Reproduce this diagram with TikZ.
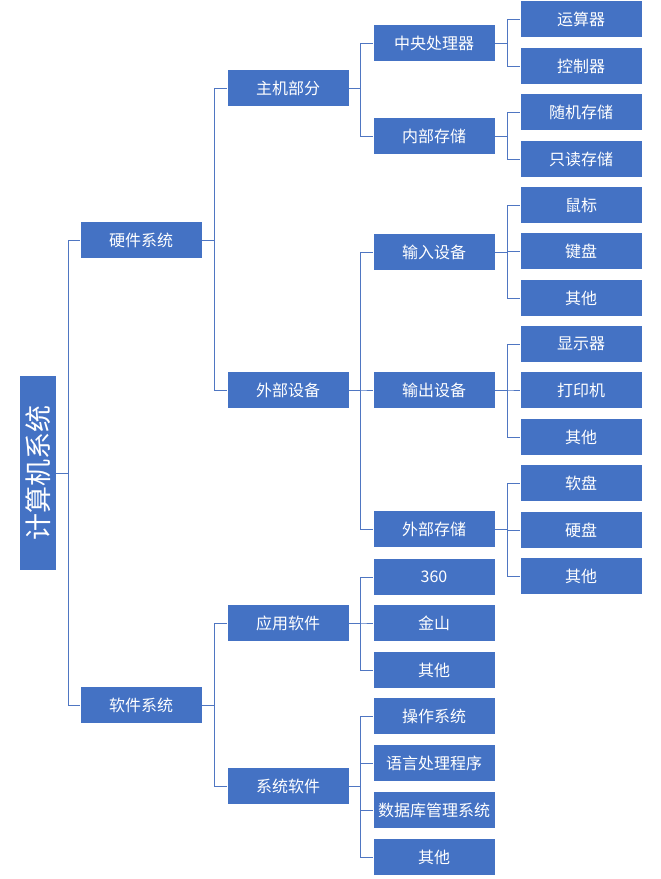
\documentclass[tikz,border=0pt]{standalone}
\usepackage{fontspec}
\setmainfont{Noto Sans CJK SC}
\usepackage{tikz}
\definecolor{boxblue}{HTML}{4472C4}
\definecolor{lineblue}{HTML}{4F76C2}

\begin{document}
\begin{tikzpicture}[
    x=1pt, y=-1pt,
    box/.style={fill=boxblue, text=white, minimum width=121pt, minimum height=36pt, inner sep=0pt, align=center, font=\fontsize{16}{19}\selectfont},
    rootbox/.style={fill=boxblue, text=white, minimum width=194pt, minimum height=36pt, inner sep=0pt, rotate=90, font=\fontsize{27}{30}\selectfont},
    conn/.style={draw=lineblue, line width=0.8pt}
]
\useasboundingbox (0,0) rectangle (661,879);

\node[rootbox] (root) at (38,473) {计算机系统};

\node[box] (hw) at (141,240) {硬件系统};
\node[box] (sw) at (141,705) {软件系统};

\node[box] (host) at (288,88) {主机部分};
\node[box] (ext) at (288,390) {外部设备};
\node[box] (app) at (288,623) {应用软件};
\node[box] (sys) at (288,786) {系统软件};

\node[box] (cpu) at (434,43) {中央处理器};
\node[box] (mem) at (434,136) {内部存储};
\node[box] (in) at (434,252) {输入设备};
\node[box] (out) at (434,390) {输出设备};
\node[box] (store) at (434,529) {外部存储};
\node[box] (a360) at (434,577) {360};
\node[box] (kingsoft) at (434,623) {金山};
\node[box] (appother) at (434,670) {其他};
\node[box] (os) at (434,716) {操作系统};
\node[box] (lang) at (434,763) {语言处理程序};
\node[box] (db) at (434,810) {数据库管理系统};
\node[box] (sysother) at (434,857) {其他};

\node[box] (alu) at (581,19) {运算器};
\node[box] (ctrl) at (581,66) {控制器};
\node[box] (ram) at (581,112) {随机存储};
\node[box] (rom) at (581,159) {只读存储};
\node[box] (mouse) at (581,205) {鼠标};
\node[box] (kbd) at (581,251) {键盘};
\node[box] (inother) at (581,298) {其他};
\node[box] (disp) at (581,344) {显示器};
\node[box] (print) at (581,390) {打印机};
\node[box] (outother) at (581,437) {其他};
\node[box] (floppy) at (581,483) {软盘};
\node[box] (hdd) at (581,530) {硬盘};
\node[box] (storeother) at (581,576) {其他};

\draw[conn] (root.south) -- ++(12,0) |- (hw.west);
\draw[conn] (root.south) -- ++(12,0) |- (sw.west);

\draw[conn] (hw.east) -- ++(13,0) |- (host.west);
\draw[conn] (hw.east) -- ++(13,0) |- (ext.west);
\draw[conn] (sw.east) -- ++(13,0) |- (app.west);
\draw[conn] (sw.east) -- ++(13,0) |- (sys.west);

\draw[conn] (host.east) -- ++(12,0) |- (cpu.west);
\draw[conn] (host.east) -- ++(12,0) |- (mem.west);
\draw[conn] (ext.east) -- ++(12,0) |- (in.west);
\draw[conn] (ext.east) -- ++(12,0) |- (out.west);
\draw[conn] (ext.east) -- ++(12,0) |- (store.west);
\draw[conn] (app.east) -- ++(12,0) |- (a360.west);
\draw[conn] (app.east) -- ++(12,0) |- (kingsoft.west);
\draw[conn] (app.east) -- ++(12,0) |- (appother.west);
\draw[conn] (sys.east) -- ++(12,0) |- (os.west);
\draw[conn] (sys.east) -- ++(12,0) |- (lang.west);
\draw[conn] (sys.east) -- ++(12,0) |- (db.west);
\draw[conn] (sys.east) -- ++(12,0) |- (sysother.west);

\draw[conn] (cpu.east) -- ++(13,0) |- (alu.west);
\draw[conn] (cpu.east) -- ++(13,0) |- (ctrl.west);
\draw[conn] (mem.east) -- ++(13,0) |- (ram.west);
\draw[conn] (mem.east) -- ++(13,0) |- (rom.west);
\draw[conn] (in.east) -- ++(13,0) |- (mouse.west);
\draw[conn] (in.east) -- ++(13,0) |- (kbd.west);
\draw[conn] (in.east) -- ++(13,0) |- (inother.west);
\draw[conn] (out.east) -- ++(13,0) |- (disp.west);
\draw[conn] (out.east) -- ++(13,0) |- (print.west);
\draw[conn] (out.east) -- ++(13,0) |- (outother.west);
\draw[conn] (store.east) -- ++(13,0) |- (floppy.west);
\draw[conn] (store.east) -- ++(13,0) |- (hdd.west);
\draw[conn] (store.east) -- ++(13,0) |- (storeother.west);
\end{tikzpicture}
\end{document}
